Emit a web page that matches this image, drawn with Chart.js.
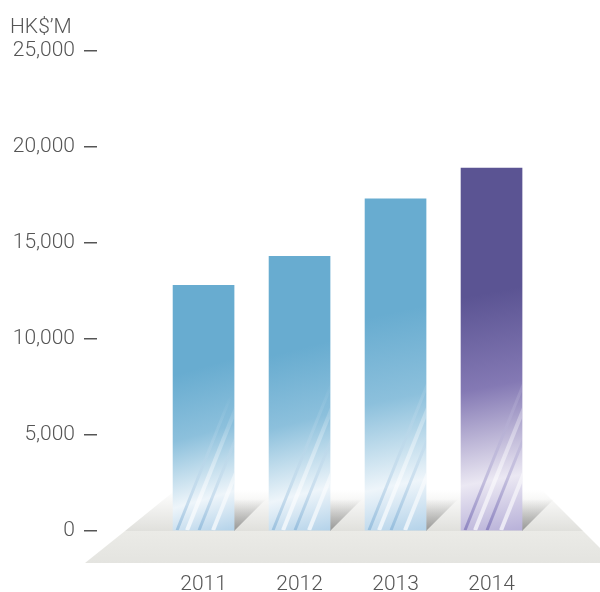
<!DOCTYPE html>
<html>
<head>
<meta charset="UTF-8">
<title>HK$'M</title>
<style>
    body { margin: 0; background: #fff; }
    .wrap { width: 600px; height: 592px; position: relative; }
</style>
</head>
<body>
<div class="wrap"><canvas id="chart"></canvas></div>

<script src="https://cdn.jsdelivr.net/npm/chart.js"></script>
<script>
    // data
    const years = [2011, 2012, 2013, 2014];
    const values = [12800, 14300, 17300, 18900];
    const unitLabel = 'HK$\u2019M';

    const topColours = ['#68acd0', '#68acd0', '#68acd0', '#5b5493'];
    const midColours = ['#8cc0dc', '#8cc0dc', '#8cc0dc', '#8479b4'];
    const lowColours = ['#eef5fa', '#eef5fa', '#eef5fa', '#ebe8f3'];
    const baseColours = ['#b3d2e9', '#b3d2e9', '#b3d2e9', '#b7b0d8'];
    const streakColours = ['rgba(120,170,210,0.55)', 'rgba(120,170,210,0.55)', 'rgba(120,170,210,0.55)', 'rgba(110,100,175,0.6)'];

    const FONT = 'Roboto, "Liberation Sans", sans-serif';

    function barFill(ctx) {
        const chart = ctx.chart;
        const i = ctx.dataIndex;
        if (!chart.chartArea || i === undefined) return topColours[0];
        const x = chart.scales.x.getPixelForValue(years[i]);
        const top = chart.scales.y.getPixelForValue(values[i]);
        const bottom = chart.scales.y.getPixelForValue(0);
        const g = chart.ctx.createLinearGradient(x - 40, top, x + 30, bottom);
        g.addColorStop(0, topColours[i]);
        g.addColorStop(0.35, topColours[i]);
        g.addColorStop(0.6, midColours[i]);
        g.addColorStop(0.85, lowColours[i]);
        g.addColorStop(1, baseColours[i]);
        return g;
    }

    // floor under the bars
    const floorPlugin = {
        id: 'floor',
        beforeDatasetsDraw(chart) {
            const c = chart.ctx;
            const z = chart.scales.y.getPixelForValue(0);
            const back = z - 41, front = z + 32;
            c.save();
            // back part
            let g = c.createLinearGradient(0, back, 0, z);
            g.addColorStop(0, '#ffffff');
            g.addColorStop(1, '#e0e0dc');
            c.fillStyle = g;
            c.beginPath();
            c.moveTo(85 + 73 * 1.24, back);
            c.lineTo(542, back);
            c.lineTo(583, z);
            c.lineTo(125, z);
            c.closePath();
            c.fill();
            // front strip
            g = c.createLinearGradient(0, z, 0, front);
            g.addColorStop(0, '#ebebe7');
            g.addColorStop(1, '#e4e4e0');
            c.fillStyle = g;
            c.beginPath();
            c.moveTo(125, z);
            c.lineTo(583, z);
            c.lineTo(615, front);
            c.lineTo(85, front);
            c.closePath();
            c.fill();
            // shadows right of each bar
            const meta = chart.getDatasetMeta(0);
            meta.data.forEach(bar => {
                const r = bar.x + bar.width / 2;
                const sg = c.createLinearGradient(0, z - 32, 0, z);
                sg.addColorStop(0, 'rgba(90,90,90,0)');
                sg.addColorStop(1, 'rgba(90,90,90,0.55)');
                c.fillStyle = sg;
                c.beginPath();
                c.moveTo(r, z);
                c.lineTo(r, z - 34);
                c.lineTo(r + 34, z - 34);
                c.closePath();
                c.fill();
            });
            c.restore();
        },
        afterDatasetsDraw(chart) {
            // light streaks on the bars
            const c = chart.ctx;
            const meta = chart.getDatasetMeta(0);
            meta.data.forEach((bar, i) => {
                const l = bar.x - bar.width / 2;
                const h = bar.base - bar.y;
                c.save();
                c.beginPath();
                c.rect(l, bar.y, bar.width, h);
                c.clip();
                const offs = [4, 14, 26, 40];
                offs.forEach((o, k) => {
                    const sg = c.createLinearGradient(0, bar.base - h * 0.55, 0, bar.base);
                    sg.addColorStop(0, 'rgba(255,255,255,0)');
                    sg.addColorStop(1, k % 2 ? 'rgba(255,255,255,0.7)' : streakColours[i]);
                    c.strokeStyle = sg;
                    c.lineWidth = k % 2 ? 4 : 3;
                    c.beginPath();
                    c.moveTo(l + o, bar.base);
                    c.lineTo(l + o + h * 0.22, bar.base - h * 0.55);
                    c.stroke();
                });
                c.restore();
            });
        },
        afterDraw(chart) {
            const c = chart.ctx;
            c.save();
            c.fillStyle = '#555';
            c.font = '300 21px ' + FONT;
            c.textBaseline = 'alphabetic';
            c.fillText(unitLabel, 10, 33);
            c.restore();
        }
    };

    new Chart(document.getElementById('chart'), {
        type: 'bar',
        data: {
            datasets: [{
                data: years.map((y, i) => ({ x: y, y: values[i] })),
                backgroundColor: barFill,
                barThickness: 61,
                borderWidth: 0
            }]
        },
        options: {
            responsive: true,
            maintainAspectRatio: false,
            animation: false,
            layout: { padding: { top: 51, left: 10, right: 0, bottom: 0 } },
            plugins: { legend: { display: false }, tooltip: { enabled: false } },
            scales: {
                x: {
                    type: 'linear',
                    offset: false,
                    min: 2009.89,
                    max: 2015.13,
                    grid: { display: false },
                    border: { display: false },
                    afterBuildTicks: s => { s.ticks = years.map(v => ({ value: v })); },
                    afterFit: s => { s.height = 61; },
                    ticks: {
                        callback: v => String(v),
                        color: '#555',
                        padding: 33,
                        font: { family: FONT, size: 21, weight: '300' }
                    }
                },
                y: {
                    min: 0,
                    max: 25000,
                    grid: { drawOnChartArea: false, drawTicks: true, tickLength: 13, color: '#555', lineWidth: 1.5 },
                    border: { display: false },
                    afterFit: s => { s.width = 87; },
                    ticks: {
                        stepSize: 5000,
                        color: '#555',
                        padding: 9,
                        font: { family: FONT, size: 21, weight: '300' },
                        callback: v => v.toLocaleString('en-US')
                    }
                }
            }
        },
        plugins: [floorPlugin]
    });
</script>
</body>
</html>
